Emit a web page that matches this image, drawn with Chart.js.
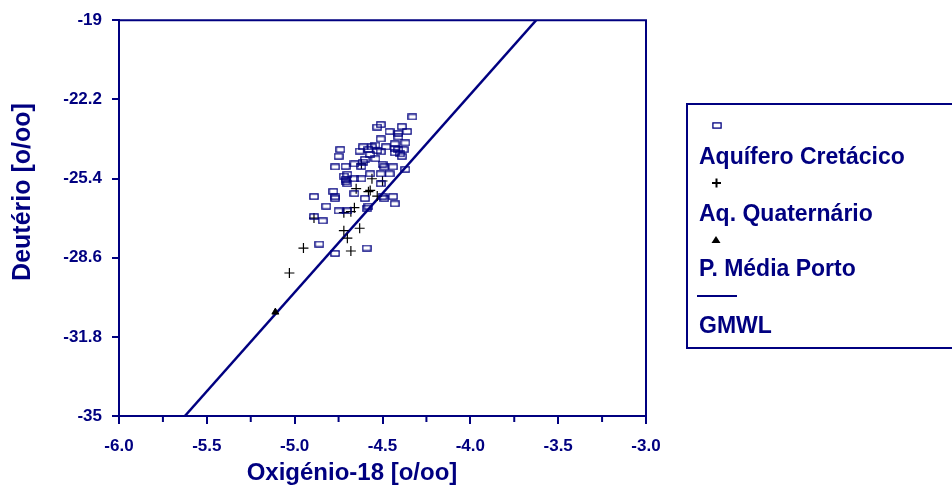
<!DOCTYPE html>
<html>
<head>
<meta charset="utf-8">
<script src="https://cdn.jsdelivr.net/npm/chart.js@4"></script>
<style>
    html, body { margin: 0; padding: 0; background: #fff; }
</style>
</head>
<body>
<canvas id="isoChart" width="952" height="491"></canvas>
<script>
const NAVY = '#000080';
const FONT = '"Liberation Sans", Arial, sans-serif';

// --- data ---
const xTicks = [-6.0, -5.5, -5.0, -4.5, -4.0, -3.5, -3.0];
const yTicks = [-35, -31.8, -28.6, -25.4, -22.2, -19];

// Aquífero Cretácico
const cretX = [-4.33, -4.53, -4.51, -4.39, -4.46, -4.41, -4.36, -4.41, -4.51, -4.37,
               -4.43, -4.48, -4.74, -4.61, -4.56, -4.54, -4.63, -4.58, -4.53, -4.51,
               -4.43, -4.41, -4.38, -4.43, -4.40, -4.75, -4.57, -4.60, -4.54, -4.39,
               -4.61, -4.66, -4.77, -4.71, -4.62, -4.50, -4.49, -4.44, -4.37, -4.57,
               -4.51, -4.46, -4.72, -4.70, -4.66, -4.62, -4.71, -4.71, -4.70, -4.51,
               -4.78, -4.66, -4.89, -4.77, -4.77, -4.60, -4.50, -4.44, -4.49, -4.43,
               -4.82, -4.58, -4.59, -4.75, -4.70, -4.89, -4.84, -4.86, -4.59, -4.77];
const cretY = [-22.91, -23.32, -23.22, -23.30, -23.50, -23.58, -23.50, -23.72, -23.80, -23.96,
               -24.00, -24.12, -24.23, -24.12, -24.12, -24.05, -24.29, -24.23, -24.27, -24.32,
               -24.20, -24.23, -24.23, -24.36, -24.40, -24.50, -24.43, -24.63, -24.60, -24.50,
               -24.74, -24.81, -24.93, -24.91, -24.91, -24.83, -24.93, -24.93, -25.03, -25.21,
               -25.21, -25.21, -25.30, -25.23, -25.41, -25.41, -25.43, -25.53, -25.61, -25.61,
               -25.92, -26.01, -26.13, -26.13, -26.21, -26.21, -26.13, -26.13, -26.21, -26.42,
               -26.52, -26.52, -26.60, -26.71, -26.71, -26.94, -27.11, -28.05, -28.21, -28.43];

// Aq. Quaternário
const quatX = [-4.62, -4.56, -4.50, -4.65, -4.58, -4.57, -4.53, -4.66, -4.72, -4.68,
               -4.89, -4.72, -4.63, -4.70, -4.95, -4.68, -5.03];
const quatY = [-24.81, -25.41, -25.50, -25.81, -25.93, -25.88, -26.11, -26.58, -26.78, -26.74,
               -27.00, -27.51, -27.41, -27.81, -28.21, -28.33, -29.22];

// P. Média Porto
const portoX = [-5.11];
const portoY = [-30.8];

// GMWL (end points)
const gmwlX = [-5.625, -3.625];
const gmwlY = [-35, -19];

const legendLabels = ['Aquífero Cretácico', 'Aq. Quaternário', 'P. Média Porto', 'GMWL'];

const toPoints = (xs, ys) => xs.map((x, i) => ({ x: x, y: ys[i] }));

// hollow rectangle marker
function makeRectMarker() {
    const c = document.createElement('canvas');
    c.width = 10;
    c.height = 7;
    const g = c.getContext('2d');
    g.strokeStyle = NAVY;
    g.lineWidth = 1.3;
    g.strokeRect(0.9, 0.9, 8.2, 5.2);
    return c;
}
const rectMarker = makeRectMarker();

// --- frame, minor ticks, titles, legend ---
const decorPlugin = {
    id: 'decor',
    afterDraw(chart) {
        const ctx = chart.ctx;
        const a = chart.chartArea;
        const xs = chart.scales.x;
        ctx.save();
        ctx.strokeStyle = NAVY;
        ctx.lineWidth = 2;
        ctx.beginPath();
        ctx.moveTo(a.left - 1, a.top);
        ctx.lineTo(a.right, a.top);
        ctx.lineTo(a.right, a.bottom + 1);
        ctx.stroke();

        // minor x ticks
        ctx.beginPath();
        for (let i = 0; i < xTicks.length - 1; i++) {
            const px = xs.getPixelForValue((xTicks[i] + xTicks[i + 1]) / 2);
            ctx.moveTo(px, a.bottom);
            ctx.lineTo(px, a.bottom + 6);
        }
        ctx.stroke();

        // axis titles
        ctx.fillStyle = NAVY;
        ctx.textAlign = 'center';
        ctx.textBaseline = 'middle';
        ctx.font = 'bold 24px ' + FONT;
        ctx.fillText('Oxigénio-18 [o/oo]', 352, 473);
        ctx.save();
        ctx.font = 'bold 25px ' + FONT;
        ctx.translate(23, 192);
        ctx.rotate(-Math.PI / 2);
        ctx.fillText('Deutério [o/oo]', 0, 0);
        ctx.restore();

        // legend box
        ctx.lineWidth = 2;
        ctx.strokeRect(687, 104, 300, 244);
        ctx.textAlign = 'left';
        ctx.font = 'bold 23px ' + FONT;
        const textY = [158, 215, 270, 327];
        legendLabels.forEach((t, i) => ctx.fillText(t, 699, textY[i]));

        ctx.drawImage(rectMarker, 712, 122);
        ctx.strokeStyle = '#000';
        ctx.lineWidth = 2;
        ctx.beginPath();
        ctx.moveTo(712, 183); ctx.lineTo(721, 183);
        ctx.moveTo(716.5, 178.5); ctx.lineTo(716.5, 187.5);
        ctx.stroke();
        ctx.fillStyle = '#000';
        ctx.beginPath();
        ctx.moveTo(716, 236); ctx.lineTo(720.5, 243); ctx.lineTo(711.5, 243);
        ctx.closePath();
        ctx.fill();
        ctx.strokeStyle = NAVY;
        ctx.beginPath();
        ctx.moveTo(697, 296); ctx.lineTo(737, 296);
        ctx.stroke();
        ctx.restore();
    }
};

const tickFont = { family: FONT, size: 17, weight: 'bold' };

new Chart(document.getElementById('isoChart'), {
    type: 'scatter',
    data: {
        datasets: [
            {
                label: legendLabels[0],
                data: toPoints(cretX, cretY),
                pointStyle: rectMarker,
                pointRadius: 5
            },
            {
                label: legendLabels[1],
                data: toPoints(quatX, quatY),
                pointStyle: 'cross',
                pointRadius: 5,
                borderColor: '#000',
                borderWidth: 1.2
            },
            {
                label: legendLabels[2],
                data: toPoints(portoX, portoY),
                pointStyle: 'triangle',
                pointRadius: 4,
                backgroundColor: '#000',
                borderColor: '#000',
                borderWidth: 1
            },
            {
                label: legendLabels[3],
                type: 'line',
                data: toPoints(gmwlX, gmwlY),
                borderColor: NAVY,
                borderWidth: 2.5,
                pointRadius: 0,
                fill: false
            }
        ]
    },
    options: {
        responsive: false,
        animation: false,
        devicePixelRatio: 1,
        layout: { padding: { left: 0, top: 19, right: 306, bottom: 0 } },
        plugins: {
            legend: { display: false },
            tooltip: { enabled: false }
        },
        scales: {
            x: {
                type: 'linear',
                min: -6,
                max: -3,
                afterBuildTicks: s => { s.ticks = xTicks.map(v => ({ value: v })); },
                afterFit: s => { s.height = 75; },
                ticks: {
                    color: NAVY,
                    font: tickFont,
                    padding: 12,
                    maxRotation: 0,
                    callback: v => v.toFixed(1)
                },
                grid: { drawOnChartArea: false, color: NAVY, lineWidth: 2, tickLength: 8 },
                border: { color: NAVY, width: 2 }
            },
            y: {
                type: 'linear',
                min: -35,
                max: -19,
                afterBuildTicks: s => { s.ticks = yTicks.map(v => ({ value: v })); },
                afterFit: s => { s.width = 119; },
                ticks: {
                    color: NAVY,
                    font: tickFont,
                    padding: 10,
                    callback: v => String(Math.round(v * 10) / 10)
                },
                grid: { drawOnChartArea: false, color: NAVY, lineWidth: 2, tickLength: 7 },
                border: { color: NAVY, width: 2 }
            }
        }
    },
    plugins: [decorPlugin]
});
</script>
</body>
</html>
